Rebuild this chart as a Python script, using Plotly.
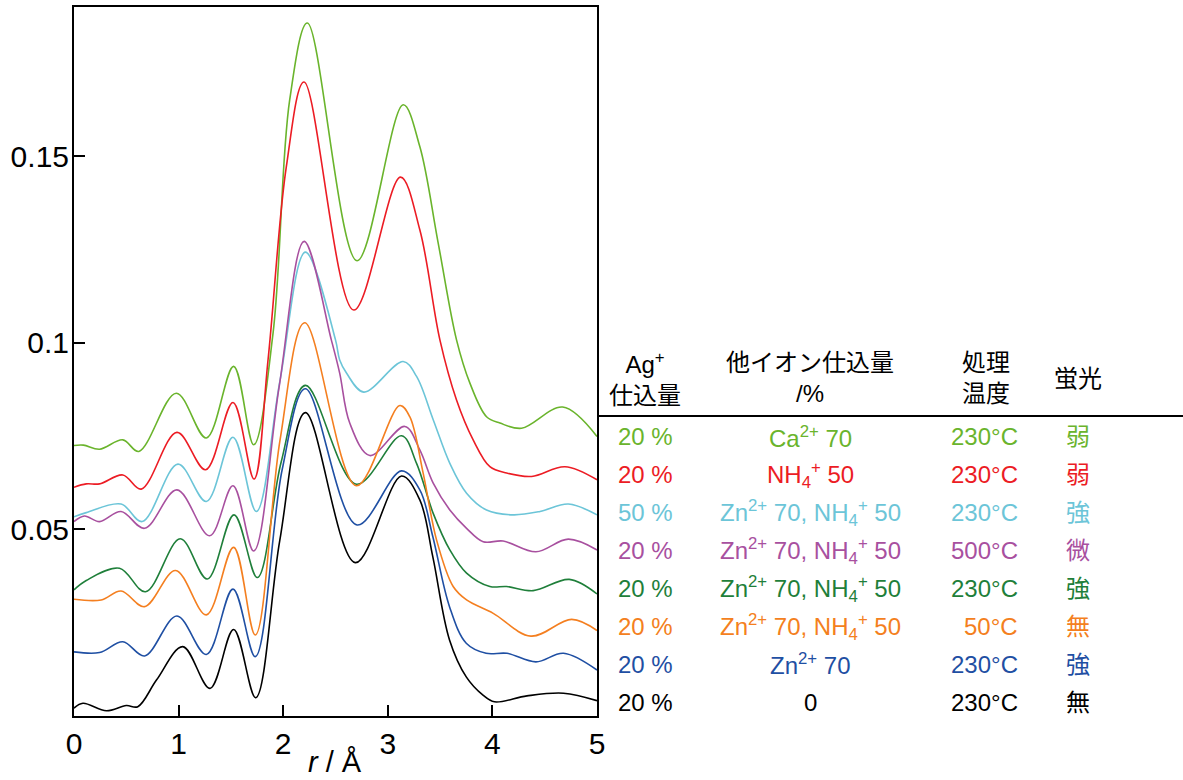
import plotly.graph_objects as go

# ---- data (r / Å, intensity) ----
r_ca = [0, 0.09, 0.244, 0.467, 0.62, 0.978, 1.265, 1.526, 1.718, 1.903, 2.062, 2.231, 2.706, 3.147, 3.306, 3.48, 3.657, 3.785, 3.944, 4.072, 4.279, 4.672, 5.0]
v_ca = [0.0725, 0.0726, 0.0715, 0.0740, 0.0709, 0.0865, 0.0745, 0.0937, 0.0727, 0.1026, 0.1651, 0.1857, 0.1220, 0.1638, 0.1526, 0.127, 0.1008, 0.0892, 0.0802, 0.0785, 0.0771, 0.0828, 0.0749]

r_nh4 = [0, 0.117, 0.244, 0.467, 0.643, 0.984, 1.258, 1.52, 1.721, 1.855, 2.03, 2.199, 2.675, 3.121, 3.306, 3.498, 3.657, 3.816, 3.976, 4.136, 4.375, 4.694, 5.0]
v_nh4 = [0.0613, 0.0622, 0.0622, 0.0646, 0.0608, 0.0760, 0.0660, 0.0840, 0.0635, 0.0954, 0.1472, 0.1699, 0.1088, 0.1444, 0.1303, 0.1008, 0.0847, 0.0740, 0.0668, 0.0651, 0.0642, 0.0668, 0.0633]

r_zn50 = [0, 0.117, 0.45, 0.652, 0.994, 1.265, 1.52, 1.743, 1.97, 2.212, 2.50, 2.54, 2.605, 2.770, 3.147, 3.275, 3.434, 3.593, 3.753, 3.944, 4.199, 4.455, 4.726, 5.0]
v_zn50 = [0.0534, 0.0545, 0.0568, 0.0521, 0.0675, 0.0575, 0.0747, 0.0548, 0.090, 0.1243, 0.1008, 0.0954, 0.0919, 0.0868, 0.0950, 0.0910, 0.0794, 0.0677, 0.0597, 0.0552, 0.0539, 0.0548, 0.0568, 0.0539]

r_zn500 = [0, 0.10, 0.244, 0.45, 0.675, 0.984, 1.297, 1.52, 1.718, 1.96, 2.20, 2.46, 2.54, 2.636, 2.828, 3.163, 3.306, 3.434, 3.593, 3.753, 3.912, 4.103, 4.416, 4.726, 5.0]
v_zn500 = [0.0521, 0.0536, 0.0521, 0.0548, 0.0503, 0.0606, 0.0483, 0.0617, 0.0442, 0.088, 0.1272, 0.1008, 0.0919, 0.0785, 0.0698, 0.0776, 0.0713, 0.0624, 0.0552, 0.0503, 0.0467, 0.0469, 0.0440, 0.0474, 0.0445]

r_zn230 = [0, 0.117, 0.435, 0.684, 1.016, 1.274, 1.53, 1.753, 1.98, 2.212, 2.70, 3.131, 3.275, 3.434, 3.593, 3.753, 3.976, 4.136, 4.39, 4.735, 5.0]
v_zn230 = [0.0338, 0.0363, 0.0396, 0.0333, 0.0475, 0.0367, 0.0539, 0.0371, 0.068, 0.0886, 0.0621, 0.0751, 0.0677, 0.0543, 0.0445, 0.0383, 0.0347, 0.0347, 0.0336, 0.0366, 0.0327]

r_zn50c = [0, 0.26, 0.45, 0.675, 0.971, 1.265, 1.526, 1.733, 1.97, 2.206, 2.70, 3.115, 3.21, 3.338, 3.466, 3.625, 3.753, 4.008, 4.368, 4.758, 5.0]
v_zn50c = [0.0313, 0.0311, 0.0335, 0.0293, 0.0390, 0.0271, 0.0452, 0.0217, 0.074, 0.1054, 0.0617, 0.0832, 0.0802, 0.0651, 0.0472, 0.0347, 0.0311, 0.0275, 0.0214, 0.0259, 0.0229]

r_zn = [0, 0.244, 0.467, 0.675, 0.984, 1.265, 1.52, 1.733, 1.99, 2.212, 2.706, 3.131, 3.306, 3.43, 3.59, 3.75, 3.94, 4.14, 4.416, 4.68, 5.0]
v_zn = [0.0172, 0.0170, 0.0199, 0.0161, 0.0268, 0.0165, 0.0340, 0.0159, 0.066, 0.0877, 0.0512, 0.0657, 0.0606, 0.0481, 0.0293, 0.0195, 0.0168, 0.0168, 0.0145, 0.0168, 0.0123]

r_none = [0, 0.085, 0.31, 0.50, 0.61, 0.79, 1.04, 1.30, 1.526, 1.737, 1.967, 2.212, 2.69, 3.131, 3.306, 3.43, 3.59, 3.75, 3.91, 4.02, 4.33, 4.68, 5.0]
v_none = [0.0021, 0.0034, 0.0014, 0.0028, 0.0025, 0.0097, 0.0186, 0.0074, 0.0232, 0.0049, 0.047, 0.0813, 0.0411, 0.0643, 0.0579, 0.0427, 0.0204, 0.0105, 0.0056, 0.0038, 0.0054, 0.0061, 0.0041]

colors = ["#6ab42c", "#ec1c24", "#6cc5d8", "#a8509f", "#1f7f3a", "#f47f20", "#1f4fa3", "#000000"]
series_r = [r_ca, r_nh4, r_zn50, r_zn500, r_zn230, r_zn50c, r_zn, r_none]
series_v = [v_ca, v_nh4, v_zn50, v_zn500, v_zn230, v_zn50c, v_zn, v_none]

# table contents
col_ag = ["20 %", "20 %", "50 %", "20 %", "20 %", "20 %", "20 %", "20 %"]
col_other = ["Ca<sup>2+</sup> 70", "NH<sub>4</sub><sup>+</sup> 50",
             "Zn<sup>2+</sup> 70, NH<sub>4</sub><sup>+</sup> 50",
             "Zn<sup>2+</sup> 70, NH<sub>4</sub><sup>+</sup> 50",
             "Zn<sup>2+</sup> 70, NH<sub>4</sub><sup>+</sup> 50",
             "Zn<sup>2+</sup> 70, NH<sub>4</sub><sup>+</sup> 50",
             "Zn<sup>2+</sup> 70", "0"]
col_temp = ["230°C", "230°C", "230°C", "500°C", "230°C", "50°C", "230°C", "230°C"]
col_fl = ["弱", "弱", "強", "微", "強", "無", "強", "無"]
headers = ["Ag<sup>+</sup><br>仕込量", "他イオン仕込量<br>/%", "処理<br>温度", "蛍光"]

x_ticks = [0, 1, 2, 3, 4, 5]
y_ticks = [0.05, 0.1, 0.15]
y_ticktext = ["0.05", "0.1", "0.15"]

W, H = 1183, 780
L, R, T, B = 74, 597, 7, 716


def px(x):
    return (x - L) / (R - L)


def py(y):
    return (B - y) / (B - T)


FONT = "Liberation Sans, Arial, Noto Sans CJK JP, sans-serif"

fig = go.Figure()
for r, v, c in zip(series_r, series_v, colors):
    fig.add_trace(go.Scatter(x=r, y=v, mode="lines",
                             line=dict(color=c, width=1.6, shape="spline", smoothing=1.0),
                             hoverinfo="skip", showlegend=False))

axis_common = dict(showgrid=False, zeroline=False, showline=True, linecolor="black",
                   linewidth=2, mirror=True, ticks="inside", ticklen=11, tickwidth=2,
                   tickcolor="black", tickfont=dict(family=FONT, size=30, color="black"))
fig.update_xaxes(range=[0, 5], tickvals=x_ticks, **axis_common)
fig.update_yaxes(range=[0, 0.19], tickvals=y_ticks, ticktext=y_ticktext,
                 ticklabelstandoff=-3, **axis_common)

ann = []
ann.append(dict(text="<i>r</i> / Å", x=px(335), y=py(762), xref="paper", yref="paper",
                showarrow=False, xanchor="center", yanchor="middle",
                font=dict(family=FONT, size=29, color="black")))

hdr_x = [645, 810, 986, 1078]
for hx, t in zip(hdr_x, headers):
    ann.append(dict(text=t, x=px(hx), y=py(378), xref="paper", yref="paper", showarrow=False,
                    xanchor="center", yanchor="middle",
                    font=dict(family=FONT, size=24, color="black")))

row_y0, row_dy = 437, 37.9
for i in range(8):
    yy = py(row_y0 + i * row_dy)
    c = colors[i]
    f = dict(family=FONT, size=24, color=c)
    ann.append(dict(text=col_ag[i], x=px(645), y=yy, xref="paper", yref="paper", showarrow=False,
                    xanchor="center", yanchor="middle", font=f))
    ann.append(dict(text=col_other[i], x=px(810), y=yy, xref="paper", yref="paper", showarrow=False,
                    xanchor="center", yanchor="middle", font=f))
    ann.append(dict(text=col_temp[i], x=px(1020), y=yy, xref="paper", yref="paper", showarrow=False,
                    xanchor="right", yanchor="middle", font=f))
    ann.append(dict(text=col_fl[i], x=px(1078), y=yy, xref="paper", yref="paper", showarrow=False,
                    xanchor="center", yanchor="middle", font=f))

fig.update_layout(
    width=W, height=H,
    margin=dict(l=L, r=W - R, t=T, b=H - B, autoexpand=False),
    paper_bgcolor="white", plot_bgcolor="white",
    showlegend=False,
    annotations=ann,
    shapes=[dict(type="line", xref="paper", yref="paper", x0=px(598), x1=px(1183),
                 y0=py(416), y1=py(416), line=dict(color="black", width=2))],
)

fig.write_html("out.html", config={"displayModeBar": False},
               post_script="document.body.style.margin='0px';document.body.style.overflow='hidden';")
